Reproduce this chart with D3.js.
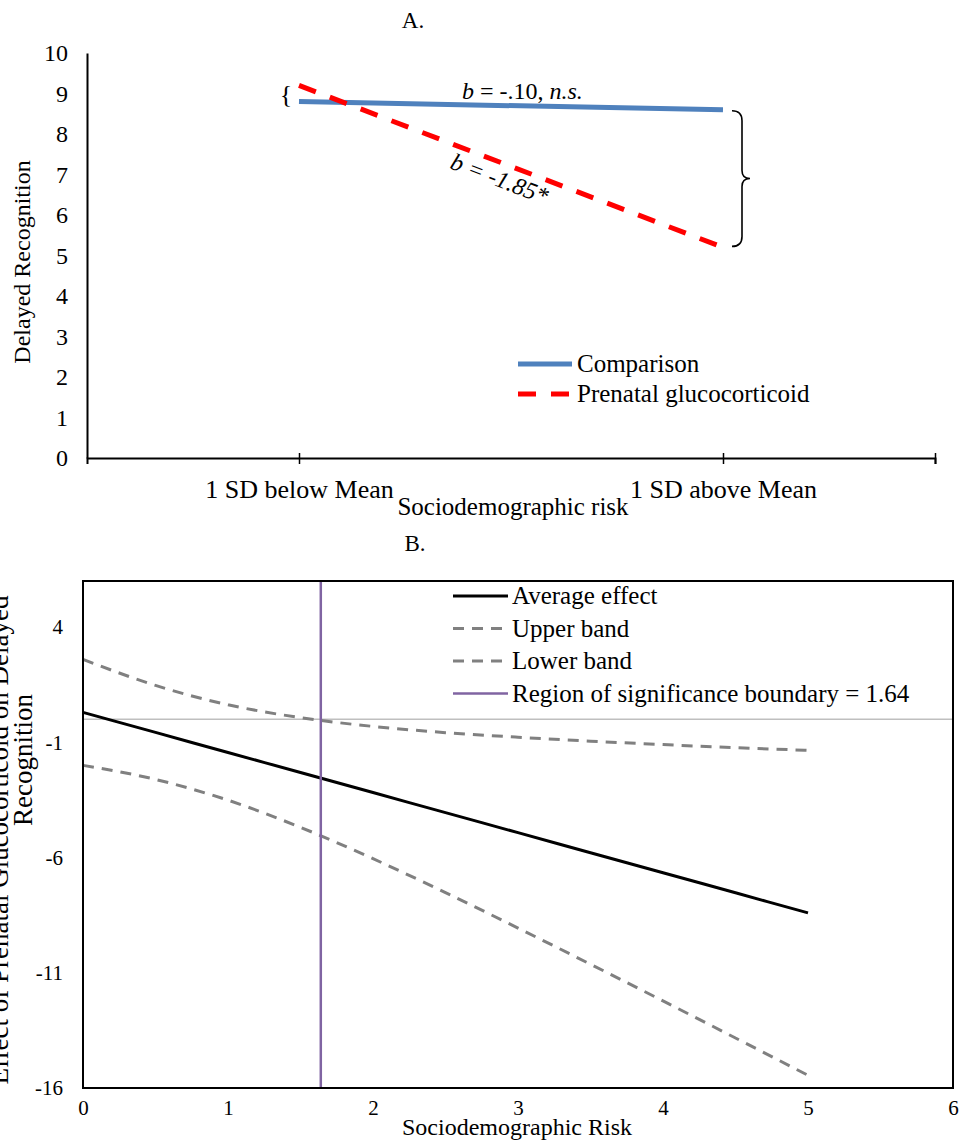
<!DOCTYPE html>
<html>
<head>
<meta charset="utf-8">
<script src="https://cdn.jsdelivr.net/npm/d3@7"></script>
<style>
  body { margin: 0; background: #fff; }
  svg { display: block; font-family: "Liberation Serif", "Times New Roman", serif; }
</style>
</head>
<body>
<script>
// ---- panel A data ----
const categoriesA = ["1 SD below Mean", "1 SD above Mean"];
const comparison = [8.8, 8.6];
const prenatal = [9.2, 5.2];
const yTicksA = [0, 1, 2, 3, 4, 5, 6, 7, 8, 9, 10];

// ---- panel B data ----
const risk = [0, 0.5, 1, 1.5, 2, 2.5, 3, 3.5, 4, 4.5, 5];
const averageEffect = [0.3, -0.57, -1.44, -2.31, -3.18, -4.05, -4.92, -5.79, -6.66, -7.53, -8.4];
const upperBand = [2.6, 1.47, 0.63, 0.07, -0.31, -0.58, -0.78, -0.95, -1.1, -1.23, -1.35];
const lowerBand = [-2.0, -2.61, -3.51, -4.69, -6.05, -7.52, -9.06, -10.63, -12.22, -13.83, -15.45];
const boundary = 1.64;
const yTicksB = [-16, -11, -6, -1, 4];
const xTicksB = [0, 1, 2, 3, 4, 5, 6];

const width = 961, height = 1142;
const serif = "Liberation Serif";
const svg = d3.select("body").append("svg")
  .attr("width", width)
  .attr("height", height);

// ================= Panel A =================
const xA = d3.scaleLinear([0, 4], [87, 935]);   // slots, categories sit at 1 and 3
const yA = d3.scaleLinear([0, 10], [458, 53]);
const catPos = [1, 3];

svg.append("text").text("A.")
  .attr("x", 413).attr("y", 28)
  .attr("text-anchor", "middle").attr("font-size", 23);

const gyA = svg.append("g").attr("transform", "translate(87,0)")
  .call(d3.axisLeft(yA).tickValues(yTicksA).tickSize(0).tickPadding(19).tickFormat(d => String(d)));
gyA.select(".domain").attr("stroke", "#000").attr("stroke-width", 2);
gyA.selectAll("text").attr("font-size", 24).attr("font-family", serif).attr("fill", "#000");

const gxA = svg.append("g").attr("transform", "translate(0,458)")
  .call(d3.axisBottom(xA).tickValues([1, 3, 4]).tickSizeOuter(0).tickSize(6).tickPadding(16)
    .tickFormat(d => d === 4 ? "" : categoriesA[catPos.indexOf(d)]));
gxA.select(".domain").attr("stroke", "#000").attr("stroke-width", 2);
gxA.selectAll(".tick line").attr("y1", -5).attr("stroke", "#000").attr("stroke-width", 1.5);
gxA.selectAll("text").attr("font-size", 26).attr("font-family", serif).attr("fill", "#000");

svg.append("text").text("Sociodemographic risk")
  .attr("x", 513).attr("y", 515)
  .attr("text-anchor", "middle").attr("font-size", 25);

svg.append("text").text("Delayed Recognition")
  .attr("transform", "translate(30,262) rotate(-90)")
  .attr("text-anchor", "middle").attr("font-size", 24);

const lineA = d3.line().x((d, i) => xA(catPos[i])).y(d => yA(d));

svg.append("path").datum(comparison)
  .attr("d", lineA)
  .attr("fill", "none").attr("stroke", "#4f81bd").attr("stroke-width", 5);

svg.append("path").datum(prenatal)
  .attr("d", lineA)
  .attr("fill", "none").attr("stroke", "#ff0000").attr("stroke-width", 5)
  .attr("stroke-dasharray", "18,15");

// annotations
svg.append("text").text("{")
  .attr("x", 286).attr("y", 103)
  .attr("text-anchor", "middle").attr("font-size", 26);

const ann1 = svg.append("text").attr("x", 462).attr("y", 99).attr("font-size", 24);
ann1.append("tspan").attr("font-style", "italic").text("b");
ann1.append("tspan").text(" = -.10, ");
ann1.append("tspan").attr("font-style", "italic").text("n.s.");

const ann2 = svg.append("text")
  .attr("transform", "translate(449,168) rotate(21)")
  .attr("font-size", 24).attr("font-style", "italic");
ann2.append("tspan").text("b");
ann2.append("tspan").text(" = -1.85*");

// large right brace
const bx = 732, bTop = yA(comparison[1]) + 1, bBot = yA(prenatal[1]) - 1, bMid = (bTop + bBot) / 2;
svg.append("path")
  .attr("d", `M${bx},${bTop} Q${bx + 10},${bTop} ${bx + 10},${bTop + 10} L${bx + 10},${bMid - 8} Q${bx + 10},${bMid} ${bx + 18},${bMid} Q${bx + 10},${bMid} ${bx + 10},${bMid + 8} L${bx + 10},${bBot - 10} Q${bx + 10},${bBot} ${bx},${bBot}`)
  .attr("fill", "none").attr("stroke", "#000").attr("stroke-width", 1.6);

// legend A
const legA = [
  {name: "Comparison", color: "#4f81bd", dash: null, y: 364},
  {name: "Prenatal glucocorticoid", color: "#ff0000", dash: "18,15", y: 394}
];
legA.forEach(d => {
  svg.append("line").attr("x1", 518).attr("x2", 572).attr("y1", d.y).attr("y2", d.y)
    .attr("stroke", d.color).attr("stroke-width", 5).attr("stroke-dasharray", d.dash);
  svg.append("text").text(d.name).attr("x", 577).attr("y", d.y + 8).attr("font-size", 25);
});

// ================= Panel B =================
const xB = d3.scaleLinear([0, 6], [83, 953]);
const yB = d3.scaleLinear([-16, 6], [1088, 581]);

svg.append("text").text("B.")
  .attr("x", 415).attr("y", 551)
  .attr("text-anchor", "middle").attr("font-size", 23);

const gyB = svg.append("g").attr("transform", "translate(83,0)")
  .call(d3.axisLeft(yB).tickValues(yTicksB).tickSize(0).tickPadding(20).tickFormat(d => String(d)));
gyB.select(".domain").remove();
gyB.selectAll("text").attr("font-size", 21).attr("font-family", serif).attr("fill", "#000");

const gxB = svg.append("g").attr("transform", "translate(0,1088)")
  .call(d3.axisBottom(xB).tickValues(xTicksB).tickSize(0).tickPadding(12).tickFormat(d => String(d)));
gxB.select(".domain").remove();
gxB.selectAll("text").attr("font-size", 21).attr("font-family", serif).attr("fill", "#000");

svg.append("text").text("Sociodemographic Risk")
  .attr("x", 517).attr("y", 1135)
  .attr("text-anchor", "middle").attr("font-size", 24);

svg.append("text").text("Effect of Prenatal Glucocorticoid on Delayed")
  .attr("transform", "translate(8,840) rotate(-90)")
  .attr("text-anchor", "middle").attr("font-size", 27);
svg.append("text").text("Recognition")
  .attr("transform", "translate(32,760) rotate(-90)")
  .attr("text-anchor", "middle").attr("font-size", 27);

// zero line
svg.append("line")
  .attr("x1", xB(0)).attr("x2", xB(6)).attr("y1", yB(0)).attr("y2", yB(0))
  .attr("stroke", "#bfbfbf").attr("stroke-width", 1.5);

const lineB = d3.line().x((d, i) => xB(risk[i])).y(d => yB(d)).curve(d3.curveMonotoneX);

svg.append("path").datum(upperBand).attr("d", lineB)
  .attr("fill", "none").attr("stroke", "#808080").attr("stroke-width", 3).attr("stroke-dasharray", "11,8");
svg.append("path").datum(lowerBand).attr("d", lineB)
  .attr("fill", "none").attr("stroke", "#808080").attr("stroke-width", 3).attr("stroke-dasharray", "11,8");
svg.append("path").datum(averageEffect).attr("d", lineB)
  .attr("fill", "none").attr("stroke", "#000").attr("stroke-width", 3);

svg.append("line")
  .attr("x1", xB(boundary)).attr("x2", xB(boundary)).attr("y1", yB(6)).attr("y2", yB(-16))
  .attr("stroke", "#8064a2").attr("stroke-width", 2.5);

// frame
svg.append("rect")
  .attr("x", xB(0)).attr("y", yB(6))
  .attr("width", xB(6) - xB(0)).attr("height", yB(-16) - yB(6))
  .attr("fill", "none").attr("stroke", "#000").attr("stroke-width", 2);

// legend B
const legB = [
  {name: "Average effect", color: "#000", dash: null, w: 3},
  {name: "Upper band", color: "#808080", dash: "11,8", w: 3},
  {name: "Lower band", color: "#808080", dash: "11,8", w: 3},
  {name: "Region of significance boundary = 1.64", color: "#8064a2", dash: null, w: 2.5}
];
legB.forEach((d, i) => {
  const y = 596 + i * 32.5;
  svg.append("line").attr("x1", 453).attr("x2", 508).attr("y1", y).attr("y2", y)
    .attr("stroke", d.color).attr("stroke-width", d.w).attr("stroke-dasharray", d.dash);
  svg.append("text").text(d.name).attr("x", 512).attr("y", y + 8).attr("font-size", 25);
});
</script>
</body>
</html>
